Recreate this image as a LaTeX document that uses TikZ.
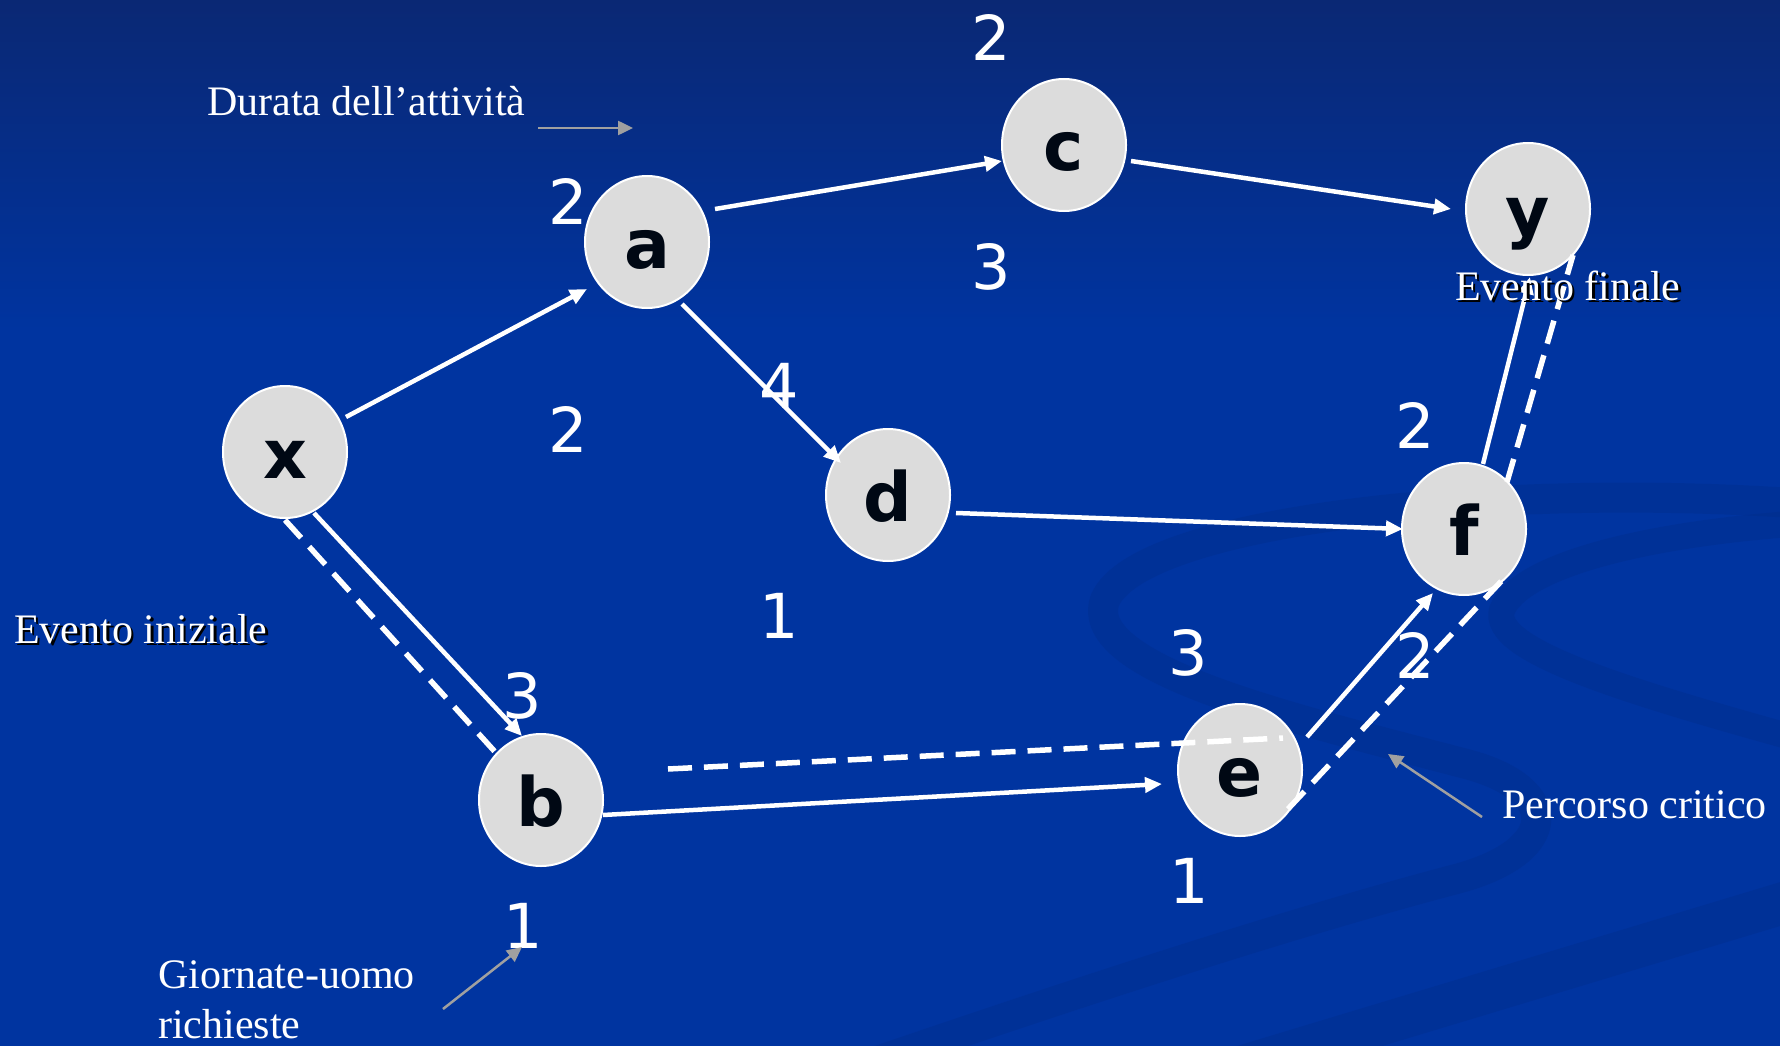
\documentclass[tikz,border=0pt]{standalone}
\usepackage{fontspec}
\setmainfont{Liberation Serif}
\newfontfamily\evfamily{DejaVu Sans}
\usetikzlibrary{shapes.geometric,arrows.meta,calc}
\definecolor{bgtop}{HTML}{0A2874}
\definecolor{bgmain}{HTML}{0034A0}
\definecolor{swooshc}{HTML}{002C88}
\definecolor{nodefill}{HTML}{DCDCDC}
\definecolor{glyph}{HTML}{000814}
\definecolor{pointerc}{HTML}{A0A0A0}
\newcommand\evfont{\evfamily\bfseries\fontsize{68}{70}\selectfont}
\newcommand\numfont{\evfamily\fontsize{62}{64}\selectfont}
\newcommand\lblfont{\fontsize{42}{50}\selectfont}
\newcommand\shadowed[1]{\makebox[0pt][l]{\hspace{2.5pt}\raisebox{-2.5pt}{\textcolor{black}{#1}}}#1}
\begin{document}
\begin{tikzpicture}[x=1pt,y=-1pt,
  event/.style={ellipse, minimum width=124pt, minimum height=132pt, inner sep=0pt,
    fill=nodefill, draw=white, line width=2pt, text=glyph, font=\evfont,
    text height=60pt, text depth=8pt},
  num/.style={text=white, font=\numfont, inner sep=0pt},
  lbl/.style={text=white, font=\lblfont, inner sep=0pt, anchor=base west},
  edge/.style={draw=white, line width=4.5pt, -{Triangle[length=17pt,width=15pt]}},
  crit/.style={draw=white, line width=5.5pt, dash pattern=on 24pt off 12pt},
  pointer/.style={draw=pointerc, line width=2.5pt, -{Triangle[length=15pt,width=14pt]}},
  swoosh/.style={draw=swooshc, line cap=round, opacity=0.35}]
\useasboundingbox (0,0) rectangle (1780,1046);
\clip (0,0) rectangle (1780,1046);
\fill[bgmain] (0,0) rectangle (1780,1046);
\shade[top color=bgtop, bottom color=bgmain] (0,0) rectangle (1780,330);
% background swooshes
\draw[swoosh, line width=30pt] (1820,505) .. controls (1500,480) and (1140,520) .. (1105,600)
  .. controls (1080,670) and (1300,720) .. (1470,765) .. controls (1560,790) and (1560,850) .. (1460,878)
  .. controls (1300,920) and (1100,985) .. (880,1060);
\draw[swoosh, line width=26pt] (1820,522) .. controls (1650,532) and (1520,565) .. (1502,610)
  .. controls (1490,650) and (1620,690) .. (1820,745);
\draw[swoosh, line width=42pt] (1230,1070) -- (1820,892);

% events
\node[event] (x) at (285,452) {x};
\node[event] (a) at (647,242) {a};
\node[event] (c) at (1064,145) {c};
\node[event] (y) at (1528,209) {y};
\node[event] (d) at (888,495) {d};
\node[event] (f) at (1464,529) {f};
\node[event] (b) at (541,800) {b};
\node[event] (e) at (1240,770) {e};

% activities
\draw[edge] ($(x)+(61,-35)$) -- ($(a)+(-60,47)$);
\draw[edge] ($(a)+(68,-33)$) -- ($(c)+(-62,16)$);
\draw[edge] ($(c)+(67,16)$) -- ($(y)+(-77,0)$);
\draw[edge] ($(a)+(35,62)$) -- ($(d)+(-47,-32)$);
\draw[edge] ($(d)+(68,18)$) -- ($(f)+(-61,0)$);
\draw[edge] ($(x)+(29,61)$) -- ($(b)+(-19,-64)$);
\draw[edge] ($(b)+(62,15)$) -- ($(e)+(-78,14)$);
\draw[edge] ($(e)+(67,-33)$) -- ($(f)+(-31,64)$);
\draw[edge] ($(f)+(19,-65)$) -- ($(y)+(2,68)$);

% critical path
\draw[crit] ($(x)+(0,68)$) -- ($(b)+(-44,-46)$);
\draw[crit] ($(b)+(127,-31)$) -- ($(e)+(43,-32)$);
\draw[crit] ($(e)+(48,39)$) -- ($(f)+(44,45)$);
\draw[crit] ($(f)+(43,-47)$) -- ($(y)+(45,46)$);

% numbers
\node[num] (n1) at (991,37) {2};
\node[num] (n2) at (568,201) {2};
\node[num] (n3) at (991,267) {3};
\node[num] (n4) at (779,386) {4};
\node[num] (n5) at (568,429) {2};
\node[num] (n6) at (779,616) {1};
\node[num] (n7) at (1415,425) {2};
\node[num] (n8) at (1188,653) {3};
\node[num] (n9) at (1415,655) {2};
\node[num] (n10) at (522,696) {3};
\node[num] (n11) at (1189,881) {1};
\node[num] (n12) at (523,926) {1};

% labels
\node[lbl] (durata) at (207,116) {Durata dell’attività};
\node[lbl] (iniziale) at (14,643) {\shadowed{Evento iniziale}};
\node[lbl] (finale) at (1455,300) {\shadowed{Evento finale}};
\node[lbl] (percorso) at (1502,818) {Percorso critico};
\node[lbl] (giornate) at (158,988) {Giornate-uomo};
\node[lbl] (richieste) at (158,1038) {richieste};

% pointers
\coordinate (durataTail) at (538,128);
\coordinate (durataTip) at (633,128);
\coordinate (percorsoTail) at (1482,817);
\coordinate (percorsoHead) at (1388,754);
\coordinate (giornateTail) at (443,1009);
\coordinate (giornateHead) at (522,947);
\draw[pointer] (durataTail) -- (durataTip);
\draw[pointer] (percorsoTail) -- (percorsoHead);
\draw[pointer] (giornateTail) -- (giornateHead);
\end{tikzpicture}
\end{document}
